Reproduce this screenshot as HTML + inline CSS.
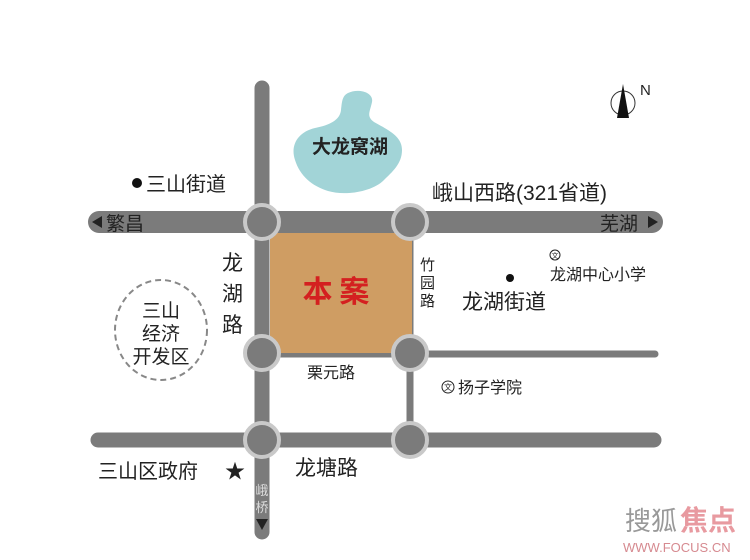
<!DOCTYPE html>
<html><head><meta charset="utf-8"><style>
html,body{margin:0;padding:0;background:#fff;}
svg{display:block;}
text{font-family:"Liberation Sans","Noto Sans CJK SC",sans-serif;fill:#222;}
</style></head><body>
<svg width="750" height="560" viewBox="0 0 750 560">
<!-- lake -->
<path d="M348,93 C358,88 374,92 372,102 C370,112 366,116 374,122 C388,130 402,136 402,150 C402,164 392,172 384,180 C372,192 345,196 328,191 C312,186 300,176 295,160 C290,145 298,132 315,128 C330,125 340,120 341,110 C342,102 342,96 348,93 Z" fill="#a2d4d7"/>
<text x="350" y="153" font-size="19" font-weight="bold" text-anchor="middle" style="font-family:'Noto Sans CJK SC',sans-serif">大龙窝湖</text>
<!-- roads -->
<g stroke="#7b7b7b" stroke-linecap="round" fill="none">
<line x1="262" y1="88" x2="262" y2="532" stroke-width="15"/>
<line x1="99" y1="222" x2="652" y2="222" stroke-width="22"/>
<line x1="410" y1="222" x2="410" y2="440" stroke-width="7"/>
<line x1="262" y1="354" x2="655" y2="354" stroke-width="7"/>
<line x1="98" y1="440" x2="654" y2="440" stroke-width="15"/>
</g>
<rect x="270" y="233" width="142" height="120" fill="#cf9d63"/>
<!-- circles -->
<g fill="#7b7b7b" stroke="#c9c9c9" stroke-width="4">
<circle cx="262" cy="222" r="17"/><circle cx="410" cy="222" r="17"/>
<circle cx="262" cy="353" r="17"/><circle cx="410" cy="353" r="17"/>
<circle cx="262" cy="440" r="17"/><circle cx="410" cy="440" r="17"/>
</g>
<polygon points="92,222 102,216 102,228" fill="#222"/>
<polygon points="658,222 648,216 648,228" fill="#222"/>
<polygon points="262,530 256,519 268,519" fill="#222"/>
<text x="106" y="230" font-size="19" fill="#333">繁昌</text>
<text x="600" y="230" font-size="19" fill="#333">芜湖</text>
<text x="336" y="302" font-size="30" font-weight="bold" text-anchor="middle" style="fill:#d42020;font-family:'Noto Sans CJK SC',sans-serif">本 案</text>
<!-- labels -->
<circle cx="137" cy="183" r="5" fill="#111"/>
<text x="146" y="191" font-size="20">三山街道</text>
<text x="432" y="200" font-size="21">峨山西路(321省道)</text>
<text x="222" y="270" font-size="21">龙</text>
<text x="222" y="301" font-size="21">湖</text>
<text x="222" y="332" font-size="21">路</text>
<text x="420" y="270" font-size="15">竹</text>
<text x="420" y="288" font-size="15">园</text>
<text x="420" y="306" font-size="15">路</text>
<text x="307" y="378" font-size="16">栗元路</text>
<ellipse cx="161" cy="330" rx="46" ry="50" fill="none" stroke="#888" stroke-width="2" stroke-dasharray="6,4"/>
<text x="161" y="317" font-size="19" text-anchor="middle">三山</text>
<text x="161" y="340" font-size="19" text-anchor="middle">经济</text>
<text x="161" y="363" font-size="19" text-anchor="middle">开发区</text>
<circle cx="555" cy="255" r="5" fill="none" stroke="#222" stroke-width="1"/>
<text x="555" y="258" font-size="7" text-anchor="middle">文</text>
<text x="550" y="280" font-size="16">龙湖中心小学</text>
<circle cx="510" cy="278" r="4" fill="#111"/>
<text x="462" y="309" font-size="21">龙湖街道</text>
<circle cx="448" cy="387" r="6" fill="none" stroke="#222" stroke-width="1"/>
<text x="448" y="390" font-size="8" text-anchor="middle">文</text>
<text x="458" y="393" font-size="16">扬子学院</text>
<text x="98" y="478" font-size="20">三山区政府</text>
<text x="225" y="478" font-size="20">★</text>
<text x="295" y="475" font-size="21">龙塘路</text>
<text x="262" y="495" font-size="13" text-anchor="middle" style="fill:#ddd">峨</text>
<text x="262" y="512" font-size="13" text-anchor="middle" style="fill:#ddd">桥</text>
<!-- compass -->
<circle cx="623" cy="103" r="12" fill="none" stroke="#333" stroke-width="1"/>
<polygon points="623,84 617,118 629,118" fill="#111"/>
<text x="640" y="95" font-size="15">N</text>
<!-- watermark -->
<text x="625" y="530" font-size="26" style="fill:#999">搜狐</text>
<text x="680" y="530" font-size="28" font-weight="bold" style="fill:#e89aa0">焦点</text>
<text x="623" y="552" font-size="13" style="fill:#d68a90">WWW.FOCUS.CN</text>
</svg>
</body></html>
